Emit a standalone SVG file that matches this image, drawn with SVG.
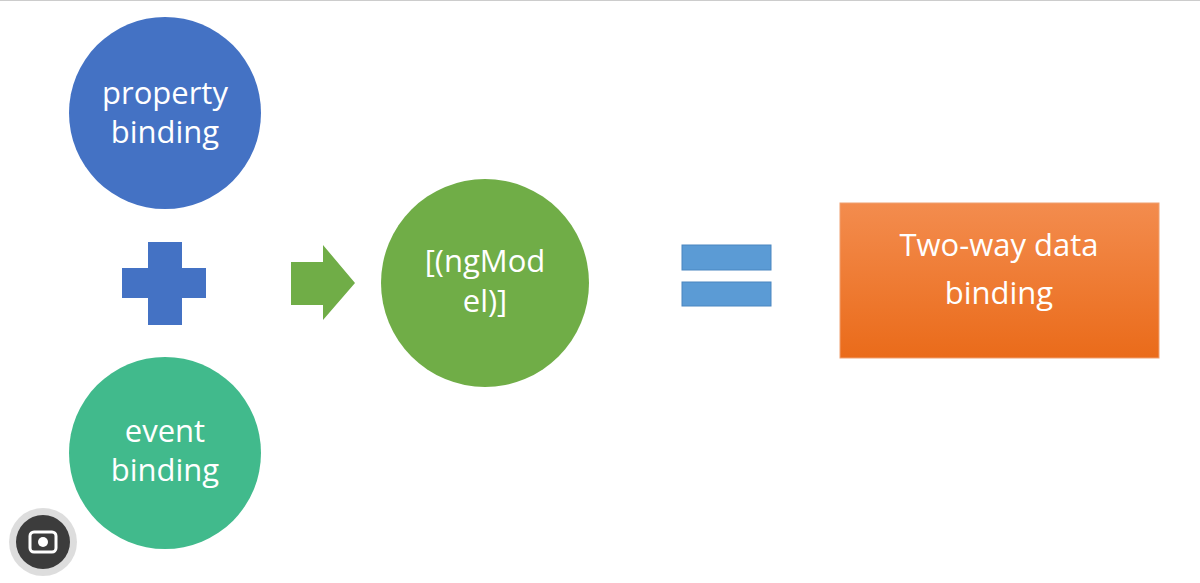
<svg xmlns="http://www.w3.org/2000/svg" width="1200" height="583" viewBox="0 0 1200 583">
<defs>
<linearGradient id="og" x1="0" y1="0" x2="0" y2="1"><stop offset="0" stop-color="#f38c4e"/><stop offset="1" stop-color="#ea6b1a"/></linearGradient>
<style>
.t{font-family:"Open Sans","Liberation Sans",sans-serif;font-size:31px;fill:#fff;text-anchor:middle}
</style>
</defs>
<rect width="1200" height="583" fill="#fff"/>
<line x1="0" y1="0.5" x2="1200" y2="0.5" stroke="#ccc"/>
<g id="property"><circle cx="165" cy="113" r="96" fill="#4472c4"/><text class="t" x="165" y="104">property</text><text class="t" x="165" y="143">binding</text></g>
<g id="plus"><rect x="148" y="242" width="34" height="83" fill="#4472c4"/><rect x="122" y="268" width="84" height="30" fill="#4472c4"/></g>
<g id="event"><circle cx="165" cy="453" r="96" fill="#41ba8c"/><text class="t" x="165" y="442">event</text><text class="t" x="165" y="481">binding</text></g>
<g id="connectors"><polygon points="291,262 323,262 323,245 355,283 323,320 323,305 291,305" fill="#70ad47"/></g>
<g id="ngmodel"><circle cx="485" cy="283" r="104" fill="#70ad47"/><text class="t" x="485" y="272">[(ngMod</text><text class="t" x="485" y="312">el)]</text></g>
<g id="equals"><rect x="682" y="245" width="89" height="25" fill="#5b9bd5" stroke="#4a86c0"/><rect x="682" y="282" width="89" height="24" fill="#5b9bd5" stroke="#4a86c0"/></g>
<g id="twoway"><rect x="840" y="203" width="319" height="155" fill="url(#og)" stroke="#f0a070"/><text class="t" x="999" y="256">Two-way data</text><text class="t" x="999" y="304">binding</text></g>
<g id="lens"><circle cx="43" cy="542" r="34" fill="#d9d9d9" opacity="0.9"/><circle cx="43" cy="542" r="27" fill="#3c3c3c"/><rect x="30" y="532" width="26" height="20" rx="4" fill="none" stroke="#fff" stroke-width="3"/><circle cx="43" cy="542" r="5" fill="#fff"/></g>
</svg>
